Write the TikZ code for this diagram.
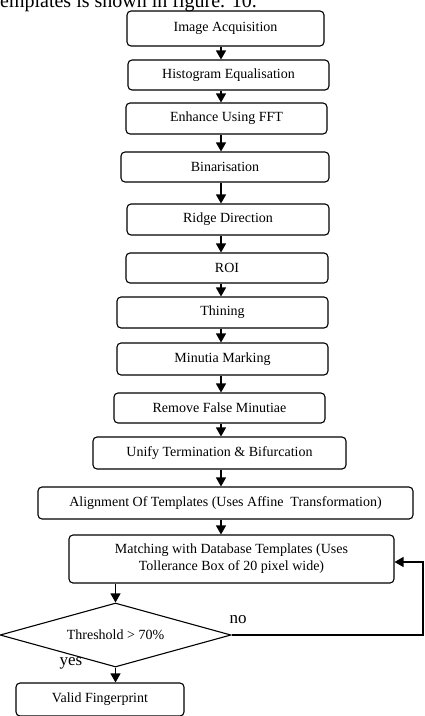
\documentclass[tikz,border=0pt]{standalone}
\usepackage{fontspec}
\setmainfont{Liberation Serif}
\usetikzlibrary{arrows.meta,shapes.geometric}
\tikzset{
  box/.style={draw, line width=1.1pt, rounded corners=4pt, inner sep=0pt, align=center,
    font=\fontsize{14}{17}\selectfont},
  arr/.style={line width=1.2pt, -{Triangle[width=10pt,length=9pt]}},
  lbl/.style={inner sep=0pt, font=\fontsize{17}{20}\selectfont},
}
\begin{document}
\begin{tikzpicture}[x=1pt,y=-1pt]
\useasboundingbox (0,0) rectangle (424,716);
\node[anchor=base west, inner sep=0pt, font=\fontsize{20}{24}\selectfont] (top) at (-5.6,7.5) {templates is shown in figure. 10.};
\coordinate (spine) at (221,0);
\node[box, minimum width=197pt, minimum height=35pt] (ia) at (225.5,28.5) {Image Acquisition};
\node[box, minimum width=201pt, minimum height=30pt] (he) at (228.5,75) {Histogram Equalisation};
\node[box, minimum width=201pt, minimum height=31pt] (fft) at (226.5,118.5) {Enhance Using FFT};
\node[box, minimum width=208pt, minimum height=30pt] (bin) at (225,167) {Binarisation};
\node[box, minimum width=202pt, minimum height=31pt] (rd) at (228,219.5) {Ridge Direction};
\node[box, minimum width=202pt, minimum height=30pt] (roi) at (227,268) {ROI};
\node[box, minimum width=211pt, minimum height=31pt] (thin) at (222.5,312.5) {Thining};
\node[box, minimum width=211pt, minimum height=32pt] (mm) at (222.5,359) {Minutia Marking};
\node[box, minimum width=211pt, minimum height=30pt] (rfm) at (219.5,408) {Remove False Minutiae};
\node[box, minimum width=253pt, minimum height=32pt] (uni) at (219.5,453) {Unify Termination \& Bifurcation};
\node[box, minimum width=375pt, minimum height=32pt] (ali) at (225.5,503) {Alignment Of Templates (Uses Affine\ \ Transformation)};
\node[box, minimum width=325pt, minimum height=48pt] (mat) at (231.5,559) {Matching with Database Templates (Uses\\Tollerance Box of 20 pixel wide)};
\node[draw, line width=1.1pt, diamond, aspect=3.6, inner sep=0pt, minimum width=231pt, minimum height=64pt,
  font=\fontsize{14}{17}\selectfont] (dia) at (115.5,635) {Threshold {>} 70\%};
\node[box, minimum width=168pt, minimum height=33pt] (val) at (100,699.5) {Valid Fingerprint};
\node[lbl] (no) at (238,620) {no};
\node[lbl] (yes) at (71,663) {yes};
\coordinate (lp) at (423,562);
\draw[arr] (ia.south -| spine) -- (he.north -| spine);
\draw[arr] (he.south -| spine) -- (fft.north -| spine);
\draw[arr] (fft.south -| spine) -- (bin.north -| spine);
\draw[arr] (bin.south -| spine) -- (rd.north -| spine);
\draw[arr] (rd.south -| spine) -- (roi.north -| spine);
\draw[arr] (roi.south -| spine) -- (thin.north -| spine);
\draw[arr] (thin.south -| spine) -- (mm.north -| spine);
\draw[arr] (mm.south -| spine) -- (rfm.north -| spine);
\draw[arr] (rfm.south -| spine) -- (uni.north -| spine);
\draw[arr] (uni.south -| spine) -- (ali.north -| spine);
\draw[arr] (ali.south -| spine) -- (mat.north -| spine);
\draw[arr] (mat.south -| dia.north) -- (dia.north);
\draw[arr] (dia.south) -- (val.north -| dia.south);
\draw[arr] (dia.east) -| (lp) -- (mat.east |- lp);
\end{tikzpicture}
\end{document}
